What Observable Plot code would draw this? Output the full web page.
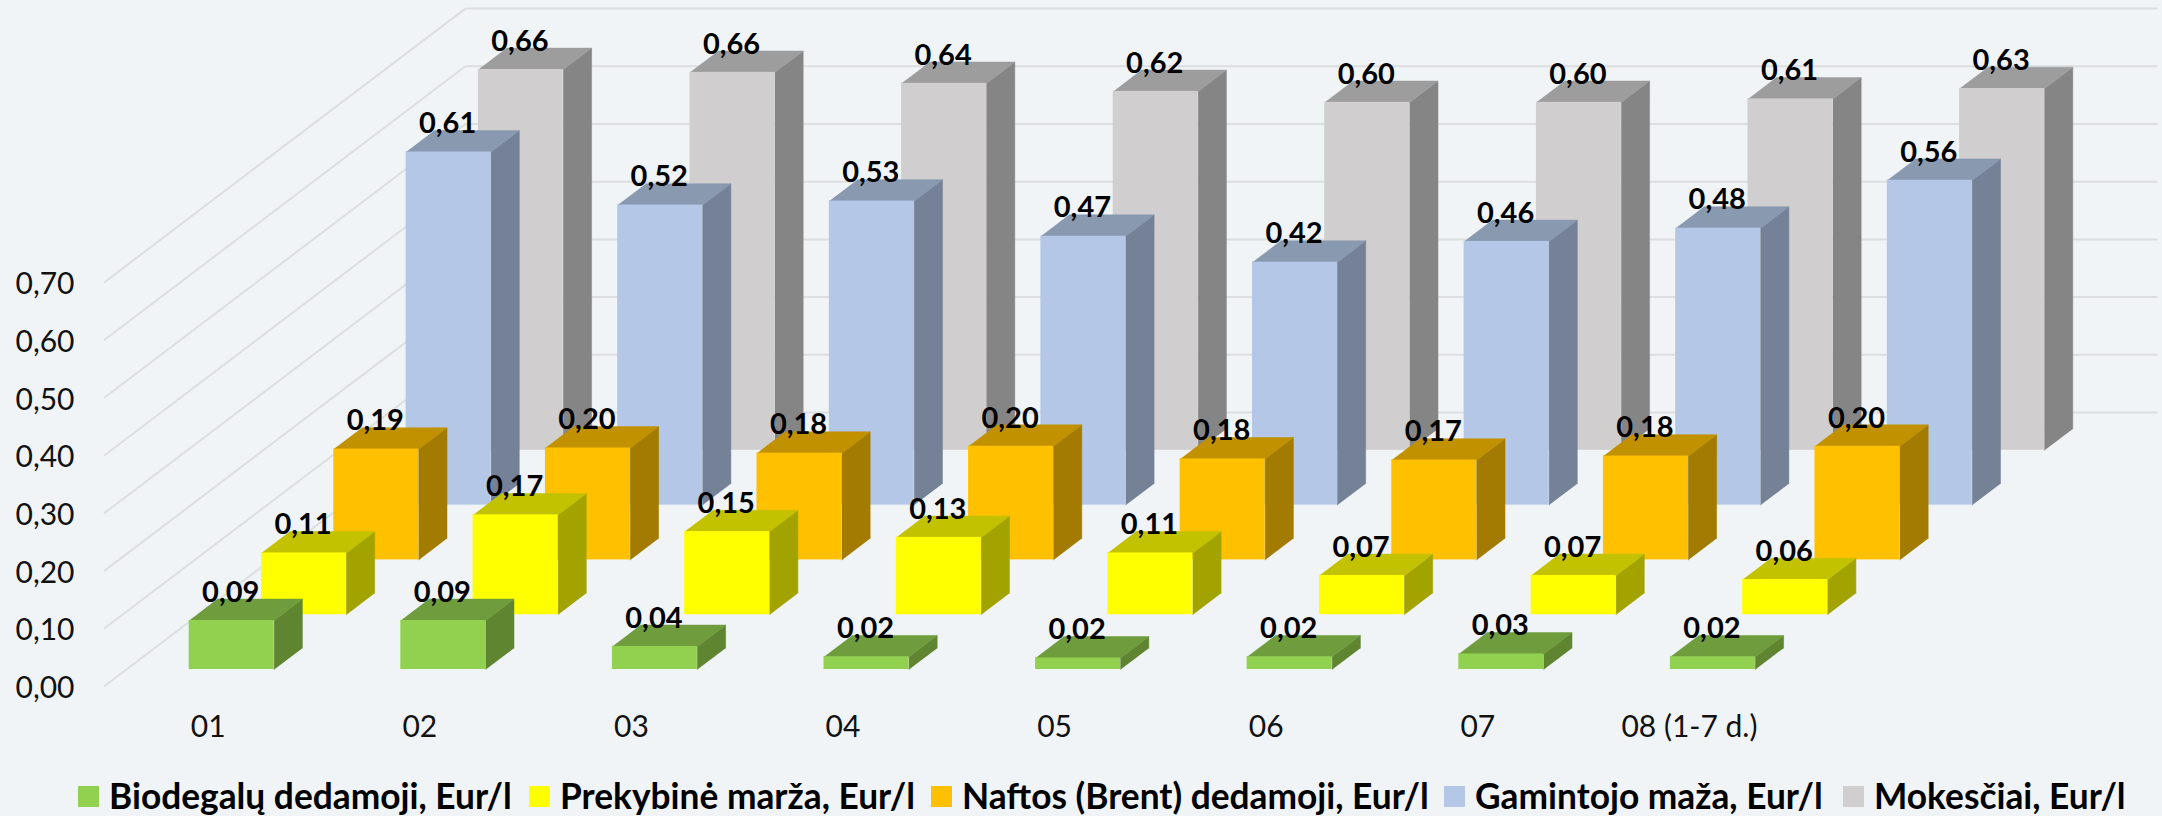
<!DOCTYPE html>
<html lang="lt">
<head>
<meta charset="utf-8">
<script src="https://cdn.jsdelivr.net/npm/d3@7"></script>
<script src="https://cdn.jsdelivr.net/npm/@observablehq/plot@0.6"></script>
<style>
  html, body { margin: 0; padding: 0; background: #f0f4f7; }
  body { width: 2162px; height: 816px; position: relative; overflow: hidden; font-family: Lato, sans-serif; }
  #legend { position: absolute; left: 0; top: 760px; width: 2162px; height: 56px; }
  .item { position: absolute; top: 0; height: 56px; }
  .sw { position: absolute; left: 0; top: 26px; width: 21px; height: 21px; }
  .lb { position: absolute; left: 31px; top: 18px; font: 700 35.3px/36px Lato, sans-serif; color: #000; white-space: nowrap; }
</style>
</head>
<body>
<div id="chart"></div>
<div id="legend"></div>
<script>
const categories = ["01", "02", "03", "04", "05", "06", "07", "08 (1-7 d.)"];
const yTicks = [0, 0.1, 0.2, 0.3, 0.4, 0.5, 0.6, 0.7];

// printed data labels
const biodegaluLabels = [0.09, 0.09, 0.04, 0.02, 0.02, 0.02, 0.03, 0.02];
const marzaLabels     = [0.11, 0.17, 0.15, 0.13, 0.11, 0.07, 0.07, 0.06];
const naftosLabels    = [0.19, 0.20, 0.18, 0.20, 0.18, 0.17, 0.18, 0.20];
const gamintojoLabels = [0.61, 0.52, 0.53, 0.47, 0.42, 0.46, 0.48, 0.56];
const mokesciaiLabels = [0.66, 0.66, 0.64, 0.62, 0.60, 0.60, 0.61, 0.63];

// bar heights
const biodegaluValues = [0.085, 0.085, 0.040, 0.022, 0.020, 0.022, 0.027, 0.022];
const marzaValues     = [0.107, 0.173, 0.144, 0.134, 0.107, 0.068, 0.068, 0.061];
const naftosValues    = [0.192, 0.194, 0.185, 0.197, 0.175, 0.173, 0.180, 0.197];
const gamintojoValues = [0.612, 0.520, 0.527, 0.466, 0.421, 0.457, 0.480, 0.563];
const mokesciaiValues = [0.660, 0.655, 0.636, 0.622, 0.603, 0.603, 0.609, 0.627];

const seriesNames = ["Biodegalų dedamoji, Eur/l", "Prekybinė marža, Eur/l", "Naftos (Brent) dedamoji, Eur/l", "Gamintojo maža, Eur/l", "Mokesčiai, Eur/l"];
const frontColors = ["#92D050", "#FFFF00", "#FFC000", "#B4C7E7", "#D0CECE"];
const topColors   = ["#6F9C3D", "#C2C200", "#C19100", "#8999B0", "#9E9D9D"];
const sideColors  = ["#5F8531", "#A3A300", "#A37B00", "#748196", "#868585"];
const legendLefts = [78, 529, 931, 1444, 1843];

const seriesValues = [biodegaluValues, marzaValues, naftosValues, gamintojoValues, mokesciaiValues];
const seriesLabels = [biodegaluLabels, marzaLabels, naftosLabels, gamintojoLabels, mokesciaiLabels];

// oblique projection: one x unit = one month, one y unit = 1 Eur/l, depth in series steps
const KX = 72.3 / 211.6, KY = 54.8 / 577;
const BAR_W = 85 / 211.6, BAR_D = 0.39;
const px = (cat, depth) => cat + depth * KX;
const py = (value, depth) => value + depth * KY;
const WALL = {left: -0.297, right: 7.7, front: -0.31, back: 4.69};

const poly = (rows) => rows.flatMap((pts, id) => pts.map(([x, y]) => ({id, x, y})));

const marks = [];

// gridlines on the side wall and on the back wall
marks.push(Plot.link(yTicks, {
  x1: () => px(WALL.left, WALL.front), y1: (v) => py(v, WALL.front),
  x2: () => px(WALL.left, WALL.back),  y2: (v) => py(v, WALL.back),
  stroke: "#dcdee0", strokeWidth: 2
}));
marks.push(Plot.link(yTicks, {
  x1: () => px(WALL.left, WALL.back),  y1: (v) => py(v, WALL.back),
  x2: () => px(WALL.right, WALL.back), y2: (v) => py(v, WALL.back),
  stroke: "#dcdee0", strokeWidth: 2
}));

// boxes, painted from the back series to the front one
for (let d = seriesValues.length - 1; d >= 0; --d) {
  const vals = seriesValues[d];
  const idx = d3.range(categories.length);
  const tops = poly(idx.map((i) => [
    [px(i, d), py(vals[i], d)],
    [px(i + BAR_W, d), py(vals[i], d)],
    [px(i + BAR_W, d + BAR_D), py(vals[i], d + BAR_D)],
    [px(i, d + BAR_D), py(vals[i], d + BAR_D)]
  ]));
  const sides = poly(idx.map((i) => [
    [px(i + BAR_W, d), py(0, d)],
    [px(i + BAR_W, d), py(vals[i], d)],
    [px(i + BAR_W, d + BAR_D), py(vals[i], d + BAR_D)],
    [px(i + BAR_W, d + BAR_D), py(0, d + BAR_D)]
  ]));
  marks.push(Plot.line(sides, {x: "x", y: "y", z: "id", fill: sideColors[d], stroke: sideColors[d], strokeWidth: 0.5}));
  marks.push(Plot.line(tops, {x: "x", y: "y", z: "id", fill: topColors[d], stroke: topColors[d], strokeWidth: 0.5}));
  marks.push(Plot.rect(idx, {
    x1: (i) => px(i, d), x2: (i) => px(i + BAR_W, d),
    y1: () => py(0, d), y2: (i) => py(vals[i], d),
    fill: frontColors[d]
  }));
}

// data labels above all bars
const comma = (v) => v.toFixed(2).replace(".", ",");
seriesLabels.forEach((labels, d) => {
  marks.push(Plot.text(d3.range(categories.length), {
    x: (i) => px(i + BAR_W / 2, d),
    y: (i) => py(seriesValues[d][i], d),
    text: (i) => comma(labels[i]),
    dy: -28, dx: -1, fontSize: 29, fontWeight: 700, fill: "#000", textAnchor: "middle", lineAnchor: "middle"
  }));
});

marks.push(Plot.axisY(yTicks, {
  anchor: "left", tickSize: 0, tickPadding: 0, label: null, dx: 74, dy: 19,
  tickFormat: comma, fontSize: 30, fill: "#111", textAnchor: "end"
}));
marks.push(Plot.axisX(d3.range(categories.length), {
  anchor: "bottom", tickSize: 0, tickPadding: 0, label: null, dx: 19, dy: -33,
  tickFormat: (i) => categories[i], fontSize: 30, fill: "#111", lineAnchor: "middle"
}));

const H = 760;
const chart = Plot.plot({
  width: 2162, height: H,
  marginTop: 0, marginRight: 0, marginBottom: 0, marginLeft: 0,
  x: {domain: [-188.7 / 211.6, (2162 - 188.7) / 211.6], range: [0, 2162]},
  y: {domain: [(669 - H) / 577, 669 / 577], range: [H, 0]},
  style: {background: "transparent", fontFamily: "Lato, sans-serif", overflow: "visible"},
  marks
});
document.getElementById("chart").appendChild(chart);

const legend = document.getElementById("legend");
seriesNames.forEach((name, i) => {
  const item = document.createElement("div");
  item.className = "item";
  item.style.left = legendLefts[i] + "px";
  const sw = document.createElement("div");
  sw.className = "sw";
  sw.style.background = frontColors[i];
  const lb = document.createElement("div");
  lb.className = "lb";
  lb.textContent = name;
  item.append(sw, lb);
  legend.append(item);
});
</script>
</body>
</html>
